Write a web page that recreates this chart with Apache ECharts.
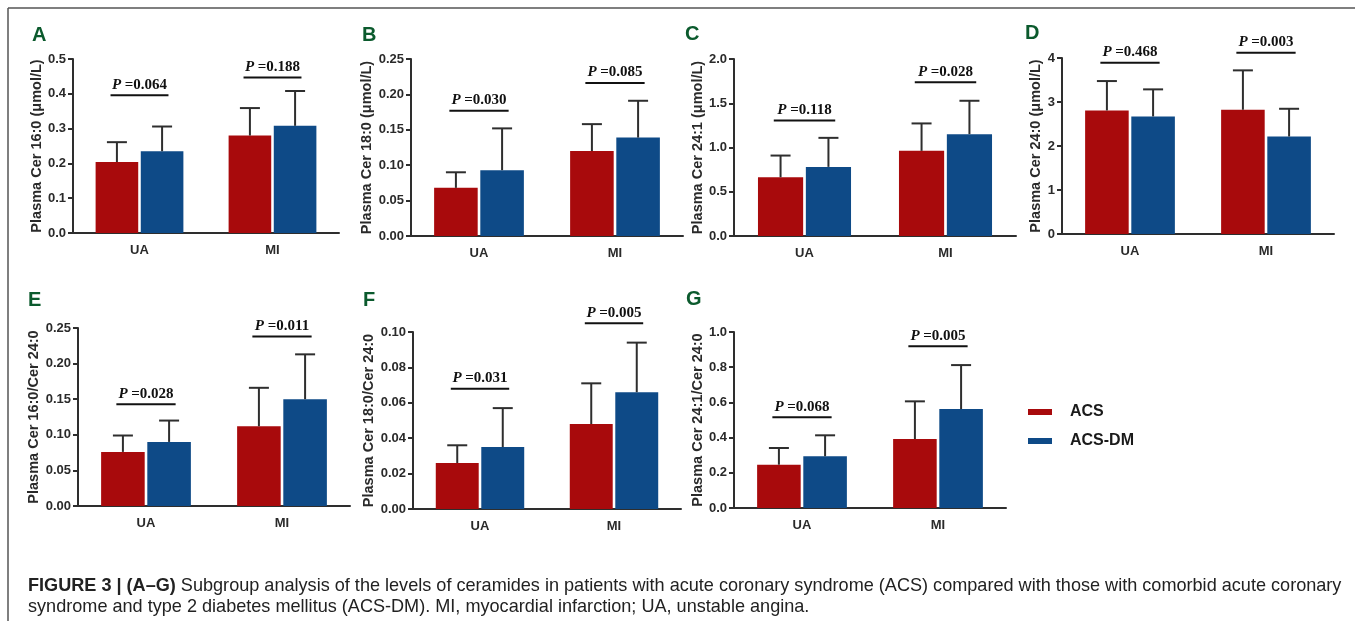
<!DOCTYPE html>
<html>
<head>
<meta charset="utf-8">
<script src="https://cdn.jsdelivr.net/npm/echarts@6/dist/echarts.min.js"></script>
<style>
  html, body { margin: 0; padding: 0; background: #fff; }
  #chart { width: 1355px; height: 621px; }
</style>
</head>
<body>
<div id="chart"></div>
<script>
// categories and panel texts
var categories = ['UA', 'MI'];
var panelLetters = ['A', 'B', 'C', 'D', 'E', 'F', 'G'];
var yNames = [
  'Plasma Cer 16:0 (μmol/L)',
  'Plasma Cer 18:0 (μmol/L)',
  'Plasma Cer 24:1 (μmol/L)',
  'Plasma Cer 24:0 (μmol/L)',
  'Plasma Cer 16:0/Cer 24:0',
  'Plasma Cer 18:0/Cer 24:0',
  'Plasma Cer 24:1/Cer 24:0'
];
// y axis ticks
var yMax = [0.5, 0.25, 2.0, 4, 0.25, 0.10, 1.0];
var yStep = [0.1, 0.05, 0.5, 1, 0.05, 0.02, 0.2];
var yDecimals = [1, 2, 1, 0, 2, 2, 1];

// means and upper end of error bars (UA, MI) per panel
var acsMean = [[0.204, 0.280], [0.068, 0.120], [0.664, 0.962], [2.808, 2.824], [0.076, 0.112], [0.026, 0.048], [0.246, 0.392]];
var acsUpper = [[0.261, 0.359], [0.090, 0.158], [0.909, 1.272], [3.476, 3.719], [0.099, 0.166], [0.036, 0.071], [0.341, 0.606]];
var dmMean = [[0.235, 0.308], [0.093, 0.139], [0.781, 1.151], [2.672, 2.216], [0.090, 0.150], [0.035, 0.066], [0.294, 0.562]];
var dmUpper = [[0.306, 0.408], [0.152, 0.191], [1.109, 1.528], [3.287, 2.846], [0.120, 0.213], [0.057, 0.094], [0.413, 0.812]];

// p values and height of the bracket (UA, MI)
var pValues = [['0.064', '0.188'], ['0.030', '0.085'], ['0.118', '0.028'], ['0.468', '0.003'], ['0.028', '0.011'], ['0.031', '0.005'], ['0.068', '0.005']];
var pLineY = [[0.396, 0.447], [0.177, 0.216], [1.306, 1.736], [3.894, 4.12], [0.143, 0.238], [0.068, 0.105], [0.515, 0.919]];

var caption1 = 'Subgroup analysis of the levels of ceramides in patients with acute coronary syndrome (ACS) compared with those with comorbid acute coronary';
var caption2 = 'syndrome and type 2 diabetes mellitus (ACS-DM). MI, myocardial infarction; UA, unstable angina.';

// layout of each panel (px)
var grids = [
  { left: 73, top: 59, width: 266, height: 174, nameGap: 25 },
  { left: 411, top: 59, width: 272, height: 177, nameGap: 24 },
  { left: 734, top: 59, width: 282, height: 177, nameGap: 27 },
  { left: 1062, top: 58, width: 272, height: 176, nameGap: 16 },
  { left: 78, top: 328, width: 272, height: 178, nameGap: 30 },
  { left: 413, top: 332, width: 268, height: 177, nameGap: 29 },
  { left: 734, top: 332, width: 272, height: 176, nameGap: 21 }
];
var letterPos = [[32, 25], [362, 25], [685, 24], [1025, 23], [28, 290], [363, 290], [686, 289]];

var RED = '#a80a0c';
var BLUE = '#0e4a87';
var AXIS = '#2e2e2e';
var FONT = '"Liberation Sans", Arial, sans-serif';
var SERIF = '"Liberation Serif", "Times New Roman", serif';
var CAT_GAP = 0.34;
var BAR_GAP = 0.06;

function barLayout(api) {
  var band = api.size([1, 0])[0];
  var w = band * (1 - CAT_GAP) / (2 + BAR_GAP);
  return { w: w, off: (w + w * BAR_GAP) / 2 };
}

function errorRender(sign) {
  return function (params, api) {
    var lay = barLayout(api);
    var p0 = api.coord([api.value(0), api.value(1)]);
    var p1 = api.coord([api.value(0), api.value(2)]);
    var x = p0[0] + sign * lay.off;
    var st = { stroke: AXIS, lineWidth: 2 };
    return {
      type: 'group',
      children: [
        { type: 'line', shape: { x1: x, y1: p0[1], x2: x, y2: p1[1] }, style: st },
        { type: 'line', shape: { x1: x - 10, y1: p1[1], x2: x + 10, y2: p1[1] }, style: st }
      ]
    };
  };
}

function bracketRender(panel) {
  return function (params, api) {
    var lay = barLayout(api);
    var p = api.coord([api.value(0), api.value(1)]);
    var half = lay.w * 0.68;
    return {
      type: 'group',
      children: [
        { type: 'line', shape: { x1: p[0] - half, y1: p[1], x2: p[0] + half, y2: p[1] }, style: { stroke: '#111', lineWidth: 2 } },
        {
          type: 'text',
          x: p[0], y: p[1] - 3,
          style: {
            text: '{p|P }{v|=' + pValues[panel][params.dataIndex] + '}',
            align: 'center', verticalAlign: 'bottom',
            rich: {
              p: { fontFamily: SERIF, fontStyle: 'italic', fontWeight: 'bold', fontSize: 15, fill: '#111' },
              v: { fontFamily: SERIF, fontWeight: 'bold', fontSize: 15, fill: '#111' }
            }
          }
        }
      ]
    };
  };
}

var option = {
  backgroundColor: '#fff',
  animation: false,
  title: panelLetters.map(function (l, i) {
    return {
      text: l, left: letterPos[i][0], top: letterPos[i][1], padding: 0,
      textStyle: { fontFamily: FONT, fontSize: 20, fontWeight: 'bold', color: '#0b5a2d' }
    };
  }),
  legend: {
    data: ['ACS', 'ACS-DM'],
    orient: 'vertical',
    left: 1028, top: 404,
    padding: 0,
    itemWidth: 24, itemHeight: 6, itemGap: 13,
    icon: 'rect',
    textStyle: { fontFamily: FONT, fontSize: 16, fontWeight: 'bold', color: '#1a1a1a', padding: [0, 0, 0, 13] }
  },
  grid: grids.map(function (g) { return { left: g.left, top: g.top, width: g.width, height: g.height }; }),
  xAxis: grids.map(function (g, i) {
    return {
      type: 'category', gridIndex: i, data: categories,
      axisLine: { lineStyle: { color: AXIS, width: 2 } },
      axisTick: { show: false },
      axisLabel: { fontFamily: FONT, fontSize: 13, fontWeight: 'bold', color: '#2a2a2a', margin: 11 }
    };
  }),
  yAxis: grids.map(function (g, i) {
    return {
      type: 'value', gridIndex: i, min: 0, max: yMax[i], interval: yStep[i],
      name: yNames[i], nameLocation: 'middle', nameGap: g.nameGap,
      nameTextStyle: { fontFamily: FONT, fontSize: 14.5, fontWeight: 'bold', color: '#2a2a2a' },
      axisLine: { show: true, lineStyle: { color: AXIS, width: 2 } },
      axisTick: { show: true, length: 5, lineStyle: { color: AXIS, width: 2 } },
      axisLabel: {
        fontFamily: FONT, fontSize: 13, fontWeight: 'bold', color: '#2a2a2a', margin: 7,
        formatter: function (v) { return v.toFixed(yDecimals[i]); }
      },
      splitLine: { show: false }
    };
  }),
  series: [],
  graphic: [
    { type: 'line', shape: { x1: 8, y1: 8, x2: 1355, y2: 8 }, style: { stroke: '#555', lineWidth: 1.5 } },
    { type: 'line', shape: { x1: 8, y1: 8, x2: 8, y2: 621 }, style: { stroke: '#555', lineWidth: 1.5 } },
    {
      type: 'text', left: 28, top: 577,
      style: {
        text: '{b|FIGURE 3 | (A–G)} ' + caption1,
        font: '18.1px ' + FONT, fill: '#222',
        rich: { b: { fontFamily: FONT, fontSize: 18.1, fontWeight: 'bold', fill: '#222' } }
      }
    },
    {
      type: 'text', left: 28, top: 598,
      style: { text: caption2, font: '18.1px ' + FONT, fill: '#222' }
    }
  ]
};

for (var i = 0; i < 7; i++) {
  option.series.push({
    name: 'ACS', type: 'bar', xAxisIndex: i, yAxisIndex: i,
    data: acsMean[i], itemStyle: { color: RED },
    barCategoryGap: (CAT_GAP * 100) + '%', barGap: (BAR_GAP * 100) + '%'
  });
  option.series.push({
    name: 'ACS-DM', type: 'bar', xAxisIndex: i, yAxisIndex: i,
    data: dmMean[i], itemStyle: { color: BLUE },
    barCategoryGap: (CAT_GAP * 100) + '%', barGap: (BAR_GAP * 100) + '%'
  });
  option.series.push({
    type: 'custom', xAxisIndex: i, yAxisIndex: i, z: 5,
    renderItem: errorRender(-1),
    encode: { x: 0, y: [1, 2] },
    data: categories.map(function (c, k) { return [k, acsMean[i][k], acsUpper[i][k]]; })
  });
  option.series.push({
    type: 'custom', xAxisIndex: i, yAxisIndex: i, z: 5,
    renderItem: errorRender(1),
    encode: { x: 0, y: [1, 2] },
    data: categories.map(function (c, k) { return [k, dmMean[i][k], dmUpper[i][k]]; })
  });
  option.series.push({
    type: 'custom', xAxisIndex: i, yAxisIndex: i, z: 6, clip: false,
    renderItem: bracketRender(i),
    encode: { x: 0, y: 1 },
    data: categories.map(function (c, k) { return [k, pLineY[i][k]]; })
  });
}

var chart = echarts.init(document.getElementById('chart'));
chart.setOption(option);
</script>
</body>
</html>
